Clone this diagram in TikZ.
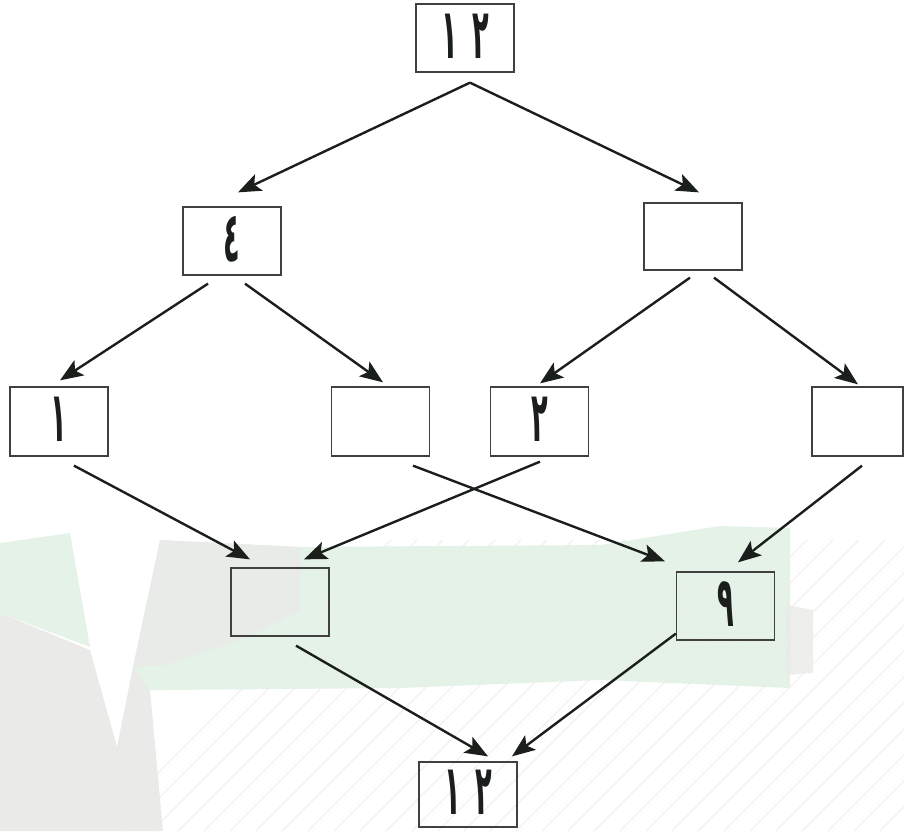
\documentclass[tikz,border=0pt]{standalone}
\usepackage{fontspec}
\newfontfamily\arfont{DejaVu Sans}
\usetikzlibrary{arrows.meta}
\definecolor{boxline}{HTML}{404040}
\definecolor{arrowc}{HTML}{1A1F1C}
\definecolor{bggreen}{HTML}{E4F2E7}
\definecolor{bggray}{HTML}{EAEAE9}
\definecolor{hatch}{HTML}{ECECE9}
\newcommand{\dg}[1]{\raisebox{4pt}{\scalebox{0.78}[2.0]{#1}}}
\tikzset{
  numbox/.style={draw=boxline, line width=1.3pt, minimum width=98pt, minimum height=68pt, inner sep=0pt, font=\arfont\bfseries\fontsize{35}{35}\selectfont, text=arrowc},
  arr/.style={draw=arrowc, line width=2.4pt, -{Stealth[length=23pt,width=18pt,inset=5pt]}}
}
\begin{document}
\begin{tikzpicture}[x=1pt,y=-1pt]
\useasboundingbox (0,0) rectangle (904,831);
% faint background picture
\fill[bggreen] (0,543) -- (70,533) -- (90,647) -- (0,613) -- cycle;
\fill[bggray] (0,613) -- (90,650) -- (117,747) -- (133,667) -- (150,690) -- (163,831) -- (0,831) -- cycle;
\fill[bggreen] (133,667) -- (160,540) -- (300,547) -- (600,545) -- (720,526) -- (790,528) -- (790,688) -- (600,680) -- (400,688) -- (165,690) -- (150,690) -- cycle;
\fill[bggray, opacity=0.8] (133,667) -- (160,540) -- (300,547) -- (300,610) -- (240,640) -- (165,665) -- cycle;
\fill[bggray, opacity=0.8] (787,605) -- (813,610) -- (813,673) -- (787,675) -- cycle;
\begin{scope}
\clip (120,540) -- (904,540) -- (904,831) -- (120,831) -- cycle;
\foreach \i in {0,...,40} {
  \draw[hatch, line width=0.8pt] (100+\i*26,831) -- (100+\i*26+300,531);
}
\end{scope}
% nodes
\node[numbox] (top) at (465,38) {\dg{١}\kern14pt\dg{٢}};
\node[numbox] (l) at (232,241) {\dg{٤}};
\node[numbox, minimum height=67pt] (r) at (693,236.5) {};
\node[numbox, minimum height=69pt] (a) at (59,421.5) {\dg{١}};
\node[numbox, minimum height=69pt] (b) at (380.5,421.5) {};
\node[numbox, minimum height=69pt] (c) at (539.5,421.5) {\dg{٢}};
\node[numbox, minimum height=69pt, minimum width=91pt] (d) at (857.5,421.5) {};
\node[numbox] (e) at (280,602) {};
\node[numbox] (f) at (725.5,606) {\dg{٩}};
\node[numbox, minimum height=65pt] (g) at (468,794.5) {\dg{١}\kern14pt\dg{٢}};
% connectors
\draw[arr] ([shift={(5,10)}]top.south) -- ([shift={(6,-14)}]l.north);
\draw[arr] ([shift={(5,10)}]top.south) -- ([shift={(6,-10)}]r.north);
\draw[arr] ([shift={(-24,8)}]l.south) -- ([shift={(1,-6)}]a.north);
\draw[arr] ([shift={(13,8)}]l.south) -- ([shift={(2.5,-4)}]b.north);
\draw[arr] ([shift={(-3,7)}]r.south) -- ([shift={(0.5,-3)}]c.north);
\draw[arr] ([shift={(21,7)}]r.south) -- ([shift={(0.5,-2)}]d.north);
\draw[arr] ([shift={(15,9)}]a.south) -- ([shift={(-30,-8)}]e.north);
\draw[arr] ([shift={(32.5,9)}]b.south) -- ([shift={(-60.5,-10)}]f.north);
\draw[arr] ([shift={(0.5,5)}]c.south) -- ([shift={(24,-8)}]e.north);
\draw[arr] ([shift={(4.5,9)}]d.south) -- ([shift={(12.5,-9)}]f.north);
\draw[arr] ([shift={(16,9)}]e.south) -- ([shift={(20,-5)}]g.north);
\draw[arr] ([shift={(0,-7)}]f.south west) -- ([shift={(44,-5)}]g.north);
\end{tikzpicture}
\end{document}
